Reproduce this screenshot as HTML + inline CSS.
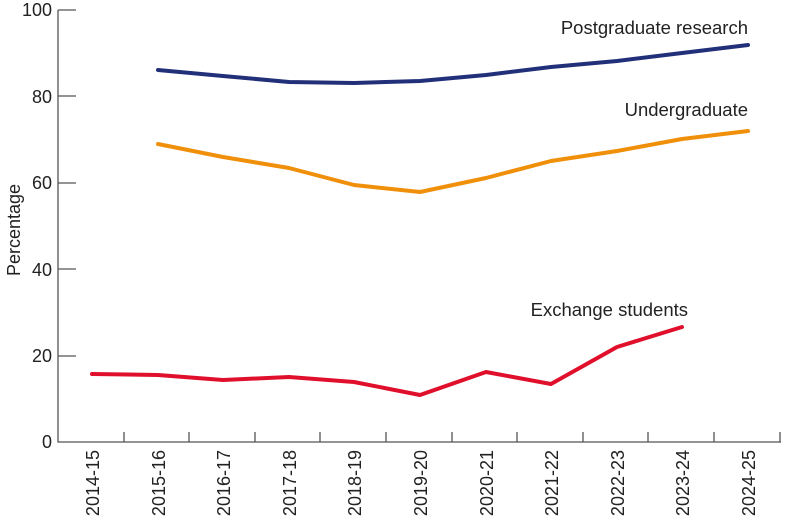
<!DOCTYPE html>
<html><head><meta charset="utf-8"><style>body{margin:0;background:#fff}svg{display:block}text{font-family:"Liberation Sans",sans-serif;fill:#222}</style></head><body>
<svg width="785" height="529" xmlns="http://www.w3.org/2000/svg">
<g stroke="#555" stroke-width="1.3" fill="none">
<path d="M58 10V442H781"/>
<path d="M58 10H76M58 96H76M58 183H76M58 269H76M58 356H76"/>
<path d="M124 442v-10M189 442v-10M255 442v-10M320 442v-10M386 442v-10M452 442v-10M517 442v-10M583 442v-10M648 442v-10M714 442v-10M780 442v-10"/>
</g>
<g font-size="18" text-anchor="end">
<text x="52" y="16">100</text><text x="52" y="103">80</text><text x="52" y="189">60</text><text x="52" y="276">40</text><text x="52" y="362">20</text><text x="52" y="448">0</text>
</g>
<text transform="translate(20,230) rotate(-90)" font-size="18" text-anchor="middle">Percentage</text>
<g font-size="18" text-anchor="end">
<text transform="translate(99,450) rotate(-90)">2014-15</text>
<text transform="translate(165,450) rotate(-90)">2015-16</text>
<text transform="translate(230,450) rotate(-90)">2016-17</text>
<text transform="translate(296,450) rotate(-90)">2017-18</text>
<text transform="translate(361,450) rotate(-90)">2018-19</text>
<text transform="translate(427,450) rotate(-90)">2019-20</text>
<text transform="translate(493,450) rotate(-90)">2020-21</text>
<text transform="translate(558,450) rotate(-90)">2021-22</text>
<text transform="translate(624,450) rotate(-90)">2022-23</text>
<text transform="translate(689,450) rotate(-90)">2023-24</text>
<text transform="translate(755,450) rotate(-90)">2024-25</text>
</g>
<g fill="none" stroke-width="4" stroke-linejoin="round" stroke-linecap="round">
<polyline stroke="#22307a" points="158,70 223,76 289,82 354,83 420,81 486,75 551,67 617,61 682,53 748,45"/>
<polyline stroke="#f0900a" points="158,144 223,157 289,168 354,185 420,192 486,178 551,161 617,151 682,139 748,131"/>
<polyline stroke="#e0102c" points="92,374 158,375 223,380 289,377 354,382 420,395 486,372 551,384 617,347 682,327"/>
</g>
<g font-size="18.5" text-anchor="end">
<text x="748" y="34">Postgraduate research</text>
<text x="748" y="116">Undergraduate</text>
<text x="688" y="316">Exchange students</text>
</g>
</svg>
</body></html>
